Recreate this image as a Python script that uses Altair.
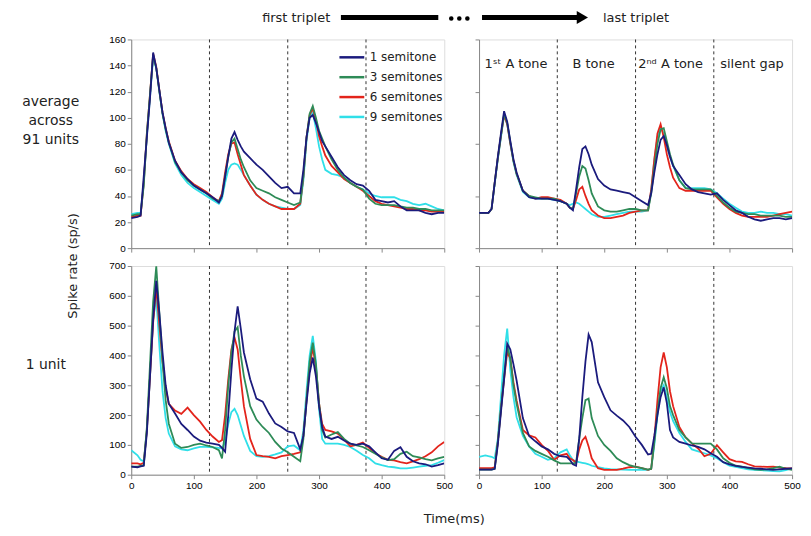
import altair as alt
import pandas as pd

# ---------------- data ----------------
T = [0, 10, 15, 20, 25, 30, 35, 40, 45, 50,
     55, 60, 70, 80, 90, 100, 110, 120, 130, 140,
     145, 150, 155, 160, 165, 170, 175, 180, 190, 200,
     210, 220, 230, 240, 250, 260, 270, 275, 280, 285,
     290, 295, 300, 305, 310, 320, 330, 340, 350, 360,
     370, 380, 390, 400, 410, 420, 430, 440, 450, 460,
     470, 480, 490, 500]

SERIES = ["1 semitone", "3 semitones", "6 semitones", "9 semitones"]
COLORS = ["#1b1b7d", "#2e8b57", "#e3241b", "#30dfe8"]

# average across 91 units, first triplet
avg_first_1 = [23, 24, 25, 55, 85, 115, 150, 138, 121, 104,
               92, 81, 67, 58, 53, 48, 45, 42, 39, 35,
               40, 55, 70, 84, 89, 83, 78, 74, 69, 64,
               60, 55, 50, 46, 47, 42, 42, 60, 85, 100,
               102, 96, 89, 82, 78, 70, 62, 56, 52, 49,
               48, 44, 37, 36, 35, 36, 32, 29, 29, 29,
               27, 26, 27, 27]
avg_first_3 = [25, 26, 26, 48, 88, 118, 148, 138, 120, 103,
               91, 81, 66, 58, 52, 48, 45, 42, 38, 36,
               40, 55, 70, 81, 84, 76, 68, 62, 52, 46,
               44, 42, 39, 37, 35, 33, 35, 55, 85, 103,
               109, 100, 90, 84, 78, 68, 60, 54, 50, 47,
               45, 38, 34, 33, 33, 33, 32, 31, 31, 30,
               30, 29, 29, 29]
avg_first_6 = [24, 25, 25, 50, 88, 118, 149, 139, 121, 104,
               92, 82, 67, 59, 53, 49, 46, 43, 39, 36,
               42, 58, 72, 80, 81, 72, 64, 56, 48, 41,
               37, 34, 32, 30, 30, 30, 34, 55, 85, 102,
               107, 98, 86, 78, 71, 63, 58, 53, 50, 47,
               44, 40, 36, 34, 33, 32, 31, 30, 30, 29,
               29, 28, 28, 28]
avg_first_9 = [26, 27, 27, 50, 86, 116, 146, 138, 120, 103,
               90, 80, 65, 56, 50, 46, 43, 40, 37, 34,
               38, 50, 60, 64, 65, 64, 60, 56, 48, 41,
               37, 34, 32, 31, 30, 30, 33, 52, 82, 100,
               104, 92, 78, 68, 60, 57, 56, 54, 50, 47,
               45, 42, 40, 39, 39, 39, 37, 36, 34, 33,
               34, 32, 30, 29]

# average across 91 units, last triplet
avg_last_1 = [27, 27, 27, 30, 50, 70, 88, 105, 97, 82,
              68, 58, 44, 39, 38, 38, 38, 37, 36, 34,
              31, 29, 45, 62, 76, 78, 72, 64, 53, 48,
              45, 44, 43, 42, 39, 36, 33, 42, 58, 72,
              83, 86, 79, 70, 63, 56, 49, 45, 43, 42,
              41, 42, 37, 33, 29, 27, 24, 22, 21, 22,
              23, 23, 22, 23]
avg_last_3 = [27, 27, 27, 30, 50, 69, 86, 103, 96, 81,
              67, 57, 44, 40, 39, 38, 38, 38, 36, 34,
              31, 30, 42, 55, 63, 61, 52, 42, 32, 29,
              28, 28, 29, 30, 30, 29, 29, 42, 62, 80,
              91, 92, 82, 72, 64, 52, 46, 45, 45, 45,
              45, 40, 35, 31, 28, 27, 26, 26, 25, 25,
              25, 25, 24, 24]
avg_last_6 = [27, 27, 27, 30, 50, 69, 86, 102, 95, 80,
              67, 57, 44, 40, 38, 39, 39, 38, 37, 34,
              31, 30, 37, 45, 47, 40, 34, 29, 25, 23,
              23, 24, 25, 27, 28, 29, 29, 45, 68, 88,
              95, 85, 72, 62, 54, 46, 44, 44, 44, 44,
              44, 39, 34, 30, 27, 25, 24, 24, 24, 24,
              25, 26, 27, 28]
avg_last_9 = [27, 27, 27, 30, 49, 68, 85, 102, 95, 80,
              66, 56, 43, 39, 38, 38, 38, 37, 36, 34,
              33, 34, 35, 34, 32, 30, 28, 26, 24, 24,
              25, 26, 27, 28, 28, 28, 29, 44, 68, 85,
              92, 88, 78, 70, 63, 52, 46, 46, 46, 46,
              45, 42, 38, 34, 31, 28, 27, 27, 28, 27,
              27, 26, 26, 25]

# 1 unit, first triplet
unit_first_1 = [27, 25, 28, 30, 140, 330, 520, 650, 540, 410,
                300, 238, 205, 170, 150, 128, 114, 108, 104, 100,
                90, 77, 200, 350, 480, 565, 490, 410, 320, 255,
                245, 205, 172, 160, 145, 140, 85, 130, 240, 340,
                393, 330, 230, 160, 128, 120, 127, 115, 104, 100,
                104, 95, 75, 55, 50, 80, 92, 60, 45, 38,
                35, 27, 32, 38]
unit_first_3 = [27, 27, 30, 32, 160, 370, 580, 699, 540, 380,
                250, 171, 104, 90, 93, 100, 104, 98, 93, 82,
                55, 150, 300, 410, 480, 495, 400, 330, 230, 185,
                160, 140, 110, 88, 75, 60, 45, 120, 250, 380,
                443, 370, 240, 150, 125, 135, 143, 120, 104, 98,
                93, 82, 70, 58, 49, 52, 70, 77, 62, 58,
                52, 48, 55, 60]
unit_first_6 = [38, 38, 35, 40, 150, 330, 510, 630, 500, 380,
                290, 238, 215, 204, 225, 200, 178, 150, 128, 110,
                116, 200, 320, 420, 460, 420, 320, 230, 120, 66,
                62, 60, 55, 62, 66, 70, 75, 130, 250, 360,
                427, 360, 240, 170, 150, 145, 138, 118, 95, 100,
                108, 90, 72, 60, 50, 48, 42, 38, 45, 52,
                62, 75, 95, 110]
unit_first_9 = [82, 65, 50, 45, 150, 330, 520, 595, 430, 280,
                190, 138, 95, 85, 82, 88, 93, 93, 92, 90,
                88, 110, 170, 210, 221, 200, 165, 130, 80, 62,
                60, 62, 68, 75, 95, 98, 82, 150, 280, 400,
                466, 380, 220, 120, 104, 104, 104, 100, 93, 80,
                66, 55, 38, 32, 27, 25, 21, 21, 24, 27,
                30, 32, 40, 49]

# 1 unit, last triplet
unit_last_1 = [17, 17, 17, 17, 20, 100, 210, 320, 440, 420,
               370, 316, 190, 130, 112, 95, 85, 70, 62, 60,
               50, 35, 30, 120, 260, 380, 470, 445, 310, 260,
               216, 198, 182, 160, 127, 100, 68, 70, 130, 200,
               260, 293, 240, 150, 125, 110, 104, 98, 93, 85,
               72, 60, 42, 35, 30, 26, 24, 21, 20, 18,
               16, 18, 20, 21]
unit_last_3 = [17, 17, 17, 17, 20, 110, 220, 330, 430, 390,
               300, 238, 140, 95, 80, 70, 60, 48, 38, 38,
               38, 38, 40, 120, 190, 250, 255, 190, 130, 100,
               80, 55, 42, 32, 26, 22, 17, 20, 110, 210,
               290, 327, 290, 230, 200, 150, 125, 105, 104, 104,
               104, 85, 55, 40, 30, 27, 22, 18, 16, 18,
               22, 27, 20, 16]
unit_last_6 = [22, 22, 22, 22, 25, 110, 220, 320, 410, 390,
               310, 249, 150, 132, 125, 100, 80, 50, 65, 70,
               55, 49, 40, 85, 115, 127, 95, 55, 22, 16,
               16, 16, 20, 25, 27, 22, 16, 20, 120, 250,
               360, 410, 360, 280, 230, 160, 125, 105, 88, 62,
               70, 99, 75, 52, 45, 43, 35, 28, 27, 26,
               27, 24, 22, 21]
unit_last_9 = [60, 65, 62, 60, 55, 120, 260, 400, 490, 350,
               260, 193, 130, 95, 70, 60, 50, 55, 75, 85,
               65, 49, 45, 42, 40, 38, 35, 30, 25, 21,
               19, 18, 17, 16, 16, 16, 16, 20, 100, 200,
               280, 300, 260, 210, 180, 140, 110, 85, 78, 72,
               65, 55, 42, 30, 26, 22, 18, 16, 15, 14,
               12, 11, 15, 21]

BOUNDARIES = [125, 250, 375]
SEG_LABELS = ["1\u02e2\u1d57 A tone", "B tone", "2\u207f\u1d48 A tone", "silent gap"]
SEG_CENTERS = [59, 183, 306, 436]
SEG_LABEL_Y = [141, 141, 141, 141]
X_TICKS = [0, 100, 200, 300, 400, 500]
Y_TICKS_AVG = [0, 20, 40, 60, 80, 100, 120, 140, 160]
Y_TICKS_UNIT = [0, 100, 200, 300, 400, 500, 600, 700]

FONT = "DejaVu Sans"
W, H = 315, 210

color_scale = alt.Scale(domain=SERIES, range=COLORS)


def panel(values, ymax, yticks, xlabels, ylabels, legend=False, extras=()):
    xax = alt.Axis(values=X_TICKS, labels=xlabels, title=None, grid=False,
                   tickSize=4, labelFlush=False)
    yax = alt.Axis(values=yticks, labels=ylabels, title=None, grid=False,
                   tickSize=4)
    X = alt.X("t:Q", scale=alt.Scale(domain=[0, 500], nice=False), axis=xax)
    Y = alt.Y("v:Q", scale=alt.Scale(domain=[0, ymax], nice=False), axis=yax)
    layers = []
    rules = alt.Chart(pd.DataFrame({"t": BOUNDARIES})).mark_rule(
        color="#333", strokeDash=[3, 3], strokeWidth=1
    ).encode(x=X)
    layers.append(rules)
    leg = None
    if legend:
        leg = alt.Legend(orient="none", legendX=208, legendY=4, title=None,
                         symbolType="stroke", symbolSize=625, symbolStrokeWidth=2.5,
                         labelFont=FONT, labelFontSize=12, labelColor="#222",
                         rowPadding=0, labelOffset=4)
    order = [3, 2, 1, 0]
    for i in order:
        df = pd.DataFrame({"t": T, "v": values[i], "series": SERIES[i]})
        layers.append(
            alt.Chart(df).mark_line(strokeWidth=1.8, clip=True).encode(
                x=X, y=Y,
                color=alt.Color("series:N", scale=color_scale, legend=leg),
            )
        )
    layers.extend(extras)
    return alt.layer(*layers).properties(width=W, height=H)


txt = dict(font=FONT, color="#222")
one = pd.DataFrame({"a": [0]})

# header and left labels (top-left panel)
hdr_first = alt.Chart(one).mark_text(
    text="first triplet", fontSize=13, **txt).encode(x=alt.value(166), y=alt.value(-22))
bar1 = alt.Chart(one).mark_rule(
    color="black", strokeWidth=5).encode(x=alt.value(211), x2=alt.value(309), y=alt.value(-22))
dots = alt.Chart(one).mark_rule(
    color="black", strokeWidth=4.5, strokeCap="round", strokeDash=[0.1, 8]
).encode(x=alt.value(322), x2=alt.value(342), y=alt.value(-21))
bar2 = alt.Chart(one).mark_rule(
    color="black", strokeWidth=5).encode(x=alt.value(353), x2=alt.value(450), y=alt.value(-22))
head = alt.Chart(one).mark_point(
    shape="triangle-right", filled=True, size=170, color="black", opacity=1
).encode(x=alt.value(454), y=alt.value(-22))
hdr_last = alt.Chart(one).mark_text(
    text="last triplet", fontSize=13, **txt).encode(x=alt.value(508), y=alt.value(-22))
lbl_avg = alt.Chart(one).mark_text(
    text="average\nacross\n91 units", lineBreak="\n", lineHeight=19, fontSize=14,
    align="center", baseline="middle", **txt).encode(x=alt.value(-81), y=alt.value(63))
ytitle = alt.Chart(one).mark_text(
    text="Spike rate (sp/s)", fontSize=13, angle=270, align="center",
    baseline="middle", **txt).encode(x=alt.value(-59), y=alt.value(228))

# bottom-left extras
lbl_unit = alt.Chart(one).mark_text(
    text="1 unit", fontSize=14, align="center", baseline="middle", **txt
).encode(x=alt.value(-86), y=alt.value(100))
xtitle = alt.Chart(one).mark_text(
    text="Time(ms)", fontSize=13, align="center", baseline="middle", **txt
).encode(x=alt.value(325), y=alt.value(255))

# segment labels (top-right panel)
seg_df = pd.DataFrame({"t": SEG_CENTERS, "v": SEG_LABEL_Y, "label": SEG_LABELS})
seg = alt.Chart(seg_df).mark_text(fontSize=13, baseline="middle", **txt).encode(
    x=alt.X("t:Q", scale=alt.Scale(domain=[0, 500], nice=False)),
    y=alt.Y("v:Q", scale=alt.Scale(domain=[0, 160], nice=False)),
    text="label:N",
)

tl = panel([avg_first_1, avg_first_3, avg_first_6, avg_first_9], 160, Y_TICKS_AVG,
           False, True, legend=True,
           extras=[hdr_first, bar1, dots, bar2, head, hdr_last, lbl_avg, ytitle])
tr = panel([avg_last_1, avg_last_3, avg_last_6, avg_last_9], 160, Y_TICKS_AVG,
           False, False, extras=[seg])
bl = panel([unit_first_1, unit_first_3, unit_first_6, unit_first_9], 700, Y_TICKS_UNIT,
           True, True, extras=[lbl_unit, xtitle])
br = panel([unit_last_1, unit_last_3, unit_last_6, unit_last_9], 700, Y_TICKS_UNIT,
           True, False)

chart = alt.concat(
    tl, tr, bl, br, columns=2, spacing={"row": 18, "column": 35}, bounds="flush"
).resolve_scale(
    x="independent", y="independent", color="independent"
).properties(
    padding={"left": 13, "top": 0, "right": 2, "bottom": 0}
).configure_view(
    stroke="#555", strokeWidth=1
).configure_axis(
    domainColor="#333", tickColor="#333", labelColor="#222", labelFont=FONT,
    labelFontSize=13, labelPadding=3, grid=False
).configure(background="white")

chart.save("out.html", embed_options={"renderer": "svg", "actions": False})
